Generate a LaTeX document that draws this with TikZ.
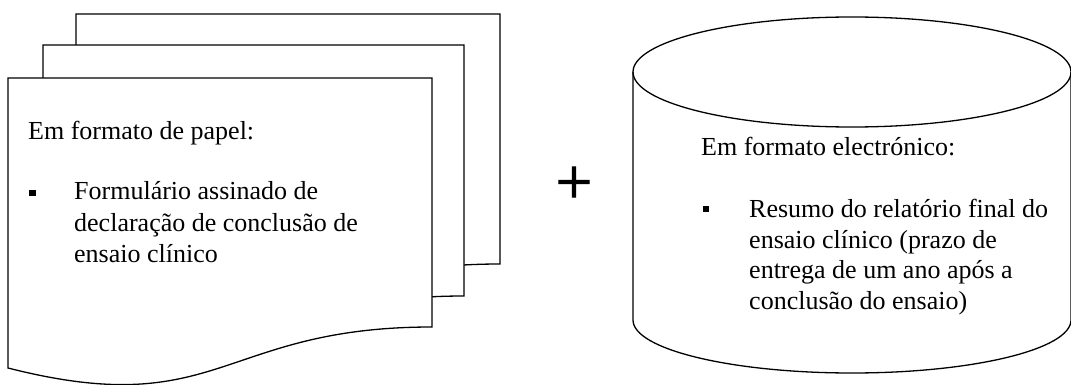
\documentclass[tikz,border=0pt]{standalone}
\usepackage{fontspec}
\setmainfont{Liberation Serif}
\newfontfamily\plusfont[FakeBold=1.5]{Liberation Serif}
\newcommand\drawpage[4]{% L R T rb
  \pgfmathsetmacro\pgmx{(#1+#2)/2}%
  \pgfmathsetmacro\pglb{#4+41}%
  \pgfmathsetmacro\pgcc{#4+95}%
  \draw[pageshape] (#1,#3) -- (#2,#3) -- (#2,#4) .. controls (\pgmx,#4) and (\pgmx,\pgcc) .. (#1,\pglb) -- cycle;}
\begin{document}
\begin{tikzpicture}[x=1pt,y=-1pt,
  pageshape/.style={draw=black,fill=white,line width=1.3pt,line join=miter},
  canshape/.style={draw=black,line width=1.3pt},
  txt/.style={anchor=base west,inner sep=0pt,font=\fontsize{26}{31}\selectfont},
  bul/.style={anchor=base west,inner sep=0pt},
  plussign/.style={anchor=base,inner sep=0pt,font=\plusfont\fontsize{65}{70}\selectfont}]
\useasboundingbox (0,0) rectangle (1071,385);
% stacked documents
\drawpage{76}{500}{14}{264}
\drawpage{43}{464}{45}{296}
\drawpage{8}{432}{78}{327}
% texts on front document
\node[txt] (p0) at (28,140) {Em formato de papel:};
\node[bul] (pb) at (29,200) {\rule[3.5pt]{6.5pt}{6.5pt}};
\node[txt] (p1) at (74,200) {Formulário assinado de};
\node[txt] (p2) at (74,231) {declaração de conclusão de};
\node[txt] (p3) at (74,262) {ensaio clínico};
% plus sign
\node[plussign] (plus) at (574,203.5) {+};
% cylinder
\draw[canshape] (633,72) -- (633,320) arc[start angle=180,end angle=360,x radius=219pt,y radius=53pt] -- (1071,72);
\draw[canshape] (852,72) ellipse[x radius=219pt,y radius=55pt];
% texts on cylinder
\node[txt] (e0) at (701,156) {Em formato electrónico:};
\node[bul] (eb) at (703,217) {\rule[5pt]{6pt}{6pt}};
\node[txt] (e1) at (749,217) {Resumo do relatório final do};
\node[txt] (e2) at (749,248) {ensaio clínico (prazo de};
\node[txt] (e3) at (749,278) {entrega de um ano após a};
\node[txt] (e4) at (749,309) {conclusão do ensaio)};
\end{tikzpicture}
\end{document}
